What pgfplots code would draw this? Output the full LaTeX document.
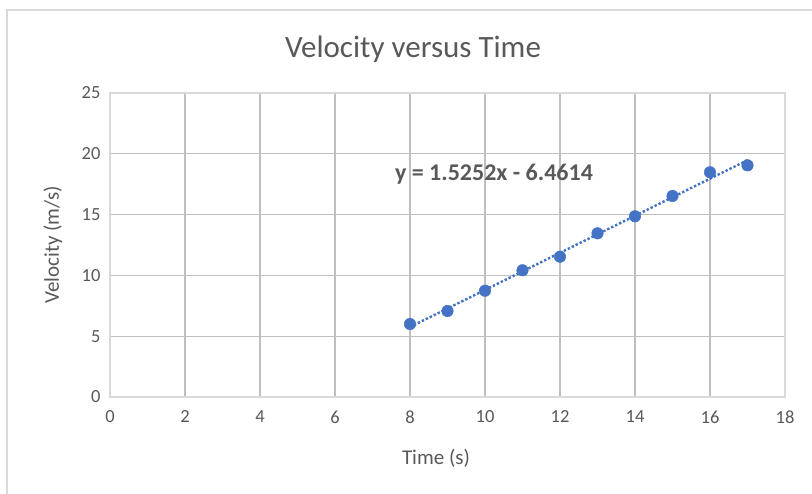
\documentclass[border=0pt]{standalone}
\usepackage{pgfplots}
\usepackage{pgfplotstable}
\pgfplotsset{compat=1.18}
\usepackage{fontspec}
\setmainfont{Carlito}
\definecolor{txt}{HTML}{595959}
\definecolor{grid}{HTML}{D9D9D9}
\definecolor{ser}{HTML}{4472C4}
\pgfplotstableread{
x y
8 6.00
9 7.07
10 8.74
11 10.42
12 11.54
13 13.46
14 14.86
15 16.53
16 18.48
17 19.05
}\datatable
\begin{document}
\begin{tikzpicture}[x=1pt,y=1pt]
\useasboundingbox (0,0) rectangle (812,494);
\fill[white] (0,0) rectangle (812,494);
\draw[grid, line width=1.2pt] (7,0) -- (7,484) -- (812,484);
\begin{axis}[
  at={(110pt,97pt)}, anchor=south west,
  scale only axis, width=675pt, height=304pt,
  xmin=0, xmax=18, ymin=0, ymax=25,
  xtick={0,2,...,18}, ytick={0,5,...,25},
  grid=major,
  major grid style={grid, line width=1.1pt},
  axis line style={grid, line width=1.1pt},
  major tick length=0pt,
  /pgf/number format/assume math mode=true,
  tick label style={font=\fontsize{18.5}{20}\selectfont, text=txt},
  xticklabel style={yshift=-10pt},
  yticklabel style={xshift=-6pt},
  title={Velocity versus Time},
  title style={font=\fontsize{31}{34}\selectfont, text=txt, at={(0.5,1)}, anchor=center, yshift=38pt, xshift=-34.5pt},
  xlabel={Time (s)},
  xlabel style={font=\fontsize{21}{24}\selectfont, text=txt, at={(0.5,0)}, anchor=center, yshift=-61pt, xshift=-11.5pt},
  ylabel={Velocity (m/s)},
  ylabel style={font=\fontsize{21}{24}\selectfont, text=txt, at={(0,0.5)}, anchor=center, yshift=57pt},
  clip=false,
]
\addplot[ser, line width=2.4pt, dotted, no marks] table[x=x, y={create col/linear regression={y=y}}] {\datatable};
\addplot[only marks, mark=*, mark size=5.8pt, mark options={fill=ser, draw=ser}] table[x=x, y=y] {\datatable};
\node[font=\bfseries\fontsize{24}{26}\selectfont, text=txt] at (axis cs:10.24,18.34) {y = 1.5252x - 6.4614};
\end{axis}
\end{tikzpicture}
\end{document}
